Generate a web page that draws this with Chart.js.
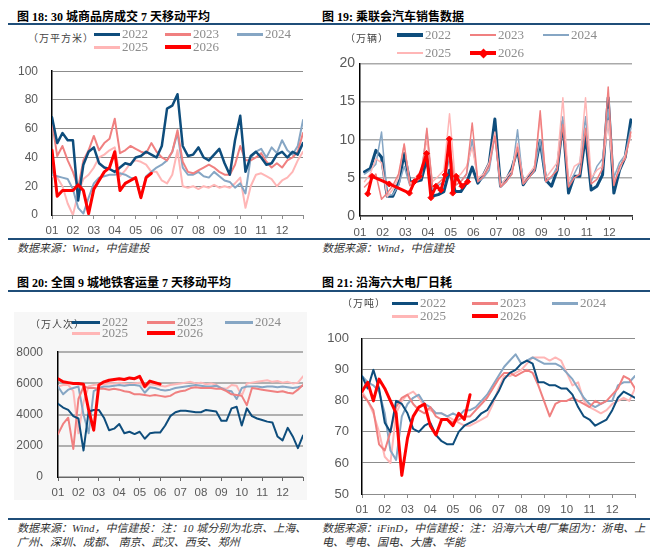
<!DOCTYPE html>
<html><head><meta charset="utf-8">
<script src="https://cdn.jsdelivr.net/npm/chart.js@4.4.1/dist/chart.umd.min.js"></script>
<style>
body{margin:0;background:#fff;width:660px;height:552px;position:relative;overflow:hidden;font-family:'Liberation Serif','Noto Sans CJK SC',serif;}
.abs{position:absolute;white-space:nowrap;}
.title{font-weight:bold;font-size:12px;color:#000;line-height:14px;}
.rule{position:absolute;height:2px;background:#1f4e79;}
.src{font-style:italic;font-size:11px;color:#333;line-height:14px;}
.unit{position:absolute;font-family:'Noto Sans CJK SC',sans-serif;font-size:10px;color:#444;letter-spacing:1px;line-height:12px;white-space:nowrap;}
.lgl{position:absolute;}
.lgt{position:absolute;font-family:'Liberation Serif',serif;font-size:13px;color:#8c8c8c;line-height:14px;}
canvas{position:absolute;}
</style></head>
<body>
<div class="bg" style="position:absolute;left:14px;top:312px;width:293px;height:188px;background:#f7f7f7;"></div>

<div class="abs title" style="left:17px;top:10px;">图 18: 30 城商品房成交 7 天移动平均</div>
<div class="abs title" style="left:322px;top:10px;">图 19: 乘联会汽车销售数据</div>
<div class="rule" style="left:8px;top:23px;width:642px;"></div>
<div class="rule" style="left:8px;top:238px;width:642px;"></div>
<div class="abs src" style="left:17px;top:241px;">数据来源：Wind，中信建投</div>
<div class="abs src" style="left:322px;top:241px;">数据来源：Wind，中信建投</div>

<div class="abs title" style="left:17px;top:276px;">图 20: 全国 9 城地铁客运量 7 天移动平均</div>
<div class="abs title" style="left:322px;top:276px;">图 21: 沿海六大电厂日耗</div>
<div class="rule" style="left:8px;top:290px;width:642px;"></div>
<div class="rule" style="left:8px;top:518px;width:642px;"></div>
<div class="abs src" style="left:17px;top:521px;">数据来源：Wind，中信建投：注：10 城分别为北京、上海、<br>广州、深圳、成都、 南京、武汉、西安、郑州</div>
<div class="abs src" style="left:322px;top:521px;">数据来源：iFinD，中信建投：注：沿海六大电厂集团为：浙电、上<br>电、粤电、国电、大唐、华能</div>

<canvas id="c1" width="320" height="195" style="left:0px;top:50px;"></canvas>
<canvas id="c2" width="320" height="195" style="left:322px;top:50px;"></canvas>
<canvas id="c3" width="320" height="175" style="left:0px;top:330px;"></canvas>
<canvas id="c4" width="320" height="200" style="left:322px;top:318px;"></canvas>
<div id="legends"></div>

<script>
// ---------- data ----------
const years = ['2022','2023','2024','2025','2026'];
const colors = ['#0e4d7c','#f08080','#86a6c4','#ffb6b6','#ff0000'];
const monthLabels = ['01','02','03','04','05','06','07','08','09','10','11','12',''];

// 30城商品房成交 (万平方米), weekly samples from start of Jan
const house2022 = [68,50,57,52,52,10,35,44,47,36,33,32,30,33,36,35,40,41,44,42,40,48,74,76,84,48,41,42,47,40,38,42,46,36,28,52,69,30,41,44,40,35,36,42,44,40,44,42,50];
const house2023 = [65,41,48,38,30,19,38,45,55,45,50,53,67,43,45,48,46,44,43,50,44,40,38,44,59,37,30,29,31,33,35,33,30,28,28,35,48,38,38,40,43,37,33,36,33,38,40,44,57];
const house2024 = [28,27,26,25,18,5,1,12,22,26,27,28,28,29,28,26,25,12,27,30,33,35,38,44,57,33,28,28,30,27,26,30,27,24,23,19,22,15,40,44,46,40,47,43,52,45,42,48,66];
const house2025 = [27,26,20,8,0,15,25,28,33,40,42,45,47,27,31,36,38,37,35,30,30,24,22,28,45,20,19,20,18,20,19,21,19,20,19,22,26,5,20,28,29,27,25,20,24,26,30,38,44];
const house2026 = [45,13,17,17,17,21,17,1,18,24,30,33,44,17,22,24,26,12,26,29];

// 乘联会汽车销售 (万辆), four weekly readings per month
const car2022 = [5.8,6.2,8.6,7.7, 2.6,2.6,4.3,8.2, 4.5,4.5,4.7,7.5, 2.6,2.8,3.2,6.0, 3.2,3.2,4.3,6.4, 4.3,5.4,6.9,12.7, 3.9,4.7,6.2,8.8, 4.1,5.2,6.0,9.9, 4.7,3.9,6.0,12.4, 3.0,5.2,5.2,10.5, 3.4,3.9,5.4,15.5, 3.0,6.0,7.7,12.6];
const car2023 = [3.8,4.6,5.5,2.2, 3.0,4.0,5.5,9.4, 4.0,4.5,5.0,11.5, 3.8,4.3,5.0,9.5, 4.0,4.5,5.5,12.2, 4.5,5.2,6.5,10.5, 3.8,4.5,5.5,9.0, 4.2,5.0,6.0,13.8, 4.5,5.2,6.0,12.0, 3.8,5.0,5.5,11.5, 4.2,4.8,6.2,16.9, 4.0,6.5,7.5,11.0];
const car2024 = [5.5,6.0,6.8,11.0, 2.7,2.8,4.0,6.5, 4.0,4.5,5.5,11.0, 3.5,4.0,4.5,7.5, 4.0,4.5,5.5,10.0, 4.5,5.0,6.0,10.5, 3.8,4.5,5.5,11.3, 4.2,5.0,6.0,10.0, 4.5,5.0,6.5,13.0, 4.0,5.5,7.0,13.0, 4.5,6.5,7.5,14.0, 5.0,7.0,8.0,11.5];
const car2025 = [4.5,5.5,7.5,7.0, 2.5,3.5,5.0,9.5, 4.2,5.0,6.0,10.0, 4.5,5.2,6.0,13.4, 4.8,5.5,6.5,9.0, 5.0,5.5,7.0,11.0, 4.0,5.0,6.0,9.5, 4.5,5.5,6.5,13.0, 5.0,6.0,7.0,15.5, 4.5,6.5,7.0,15.5, 5.0,6.0,6.5,12.5, 4.5,6.0,8.0,10.5];
const car2026Month = [0.34,0.53,1.29,2.18,2.40,2.62,2.94,3.13,3.35,3.57,3.76,3.94,4.09,4.24,4.50,4.75];
const car2026 = [2.9,5.2,4.2,3.0,4.5,5.2,8.2,2.4,3.9,3.4,5.4,10.1,3.0,5.2,3.9,4.5];

// 9城地铁客运量 (万人次)
const metro2022 = [4700,4450,4300,3900,3750,1700,4200,4300,4300,3800,3000,3100,3400,2800,2900,2750,2900,2450,2800,2850,2850,3300,3900,4150,4250,4250,4200,4150,4150,4300,4250,4200,3600,3600,4400,4500,3300,4400,3900,3750,3650,3550,3500,2600,2350,3150,2600,1850,2650];
const metro2023 = [2750,3400,3800,1800,5000,5800,5700,5700,5650,5650,5600,5650,5600,5500,5450,5300,5300,5250,5200,5250,5200,5150,5200,5400,5500,5550,5700,5750,5700,5700,5700,5650,5650,5500,5300,5250,5200,4600,5700,5650,5600,5550,5500,5450,5500,5400,5350,5600,5900];
const metro2024 = [5800,5300,5600,5700,5800,4000,2800,5500,5700,5800,5800,5850,5900,5850,5900,5900,5850,5400,5750,5700,5600,5550,5600,5700,5750,5800,5850,5900,5850,5800,5800,5850,5700,5550,5500,5000,5700,5800,5800,5800,5750,5800,5800,5750,5800,5750,5700,5750,5850];
const metro2025 = [5800,5900,5900,5500,2800,4800,5800,5900,5950,5950,6000,6000,6050,6000,5950,6000,6050,5700,5950,5900,5850,5800,5900,5950,6000,6050,6100,6000,6050,5950,6000,5900,5700,5650,5900,5850,5200,6000,6050,6100,6150,6200,6100,6150,6050,6100,6000,6050,6450];
const metro2026 = [6300,6100,6050,6000,6000,5950,4300,3000,5900,6100,6200,6250,6300,6250,6350,6300,6450,5800,6150,6050,5950];

// 沿海六大电厂日耗 (万吨)
const coal2022 = [88,84,90,84,73,70,80,79,76,71,70,72,73,69,67,66,66,70,72,73,74,76,77,80,83,87,89,90,92,93,92,86,86,85,85,84,84,82,78,75,74,72,73,74,77,81,83,82,81];
const coal2023 = [82,80,77,66,64,70,78,81,82,79,77,76,78,75,74,74,73,74,75,75,77,79,81,84,87,89,89,88,89,90,89,85,80,75,79,80,80,81,80,79,78,80,79,80,82,84,88,87,84];
const coal2024 = [88,86,85,83,76,64,61,75,79,81,82,79,78,76,76,75,76,75,77,77,78,80,82,85,88,91,93,95,92,93,94,93,92,92,92,91,89,87,84,81,79,78,79,80,80,85,86,86,88];
const coal2025 = [83,80,76,70,62,60,76,80,82,83,81,78,77,76,76,75,74,73,72,72,73,74,75,79,84,88,88,89,90,92,94,94,94,93,94,93,89,85,86,80,78,77,76,77,79,80,81,80,84];
const coal2026 = [83,86,80,87,84,80,76,56,68,75,78,79,72,69,74,74,72,76,74,82];

// ---------- helpers ----------
const weekly = arr => arr.map((v,i)=>({x:i*0.25,y:v}));
const carWeeks = arr => arr.map((v,i)=>({x:(i+1)*0.25-0.05,y:v}));
const paired = (xs,ys) => ys.map((v,i)=>({x:xs[i],y:v}));

function ds(label, color, width, pts, extra){
  return Object.assign({label, data:pts, borderColor:color, backgroundColor:color, borderWidth:width,
    pointRadius:0, tension:0, fill:false, borderJoinStyle:'round', borderCapStyle:'round'}, extra||{});
}

function makeChart(id, p){
  new Chart(document.getElementById(id), {
    type:'line',
    data:{datasets:p.datasets},
    options:{
      responsive:false, animation:false, devicePixelRatio:1,
      layout:{padding:{top:p.pt,right:p.pr,left:0,bottom:0}},
      plugins:{legend:{display:false},tooltip:{enabled:false}},
      scales:{
        x:{type:'linear',min:0,max:12,
          afterBuildTicks:s=>{s.ticks=monthLabels.map((l,i)=>({value:i}));},
          afterFit:s=>{s.height=p.xh;},
          ticks:{autoSkip:false,maxRotation:0,padding:p.xpad,color:'#595959',font:{family:'Liberation Sans',size:p.xfs},callback:(v,i)=>monthLabels[i]},
          grid:{drawOnChartArea:false,drawTicks:true,tickLength:4,color:p.xcol,lineWidth:1},
          border:{display:true,color:p.xcol,width:p.xbw}},
        y:{min:p.ymin,max:p.ymax,
          afterBuildTicks:s=>{const t=[];for(let v=p.ymin;v<=p.ymax+1e-9;v+=p.ystep)t.push({value:v});s.ticks=t;},
          afterFit:s=>{s.width=p.yw;},
          ticks:{padding:p.ypad,color:'#595959',font:{family:'Liberation Sans',size:p.yfs},callback:v=>String(v)},
          grid:{color:p.gcol,lineWidth:p.gw,drawTicks:false},
          border:{display:true,color:'#000',width:1.5}}
      }
    }
  });
}

// chart 1
makeChart('c1',{pt:10,pr:17,xh:30,yw:52,xpad:5,xfs:11.5,yfs:12,ypad:14,xcol:'#8c8c8c',xbw:1,gcol:'#8c8c8c',gw:1,ymin:0,ymax:100,ystep:20,
  datasets:[
    ds('2026',colors[4],3,weekly(house2026)),
    ds('2022',colors[0],2.5,weekly(house2022)),
    ds('2023',colors[1],2,weekly(house2023)),
    ds('2024',colors[2],2,weekly(house2024)),
    ds('2025',colors[3],2,weekly(house2025))
  ]});

// chart 2
makeChart('c2',{pt:10,pr:10,xh:29,yw:38,xpad:6,xfs:11.5,yfs:14,ypad:5,xcol:'#333',xbw:1.5,gcol:'#aaaaaa',gw:1.5,ymin:0,ymax:20,ystep:5,
  datasets:[
    ds('2026',colors[4],3,paired(car2026Month,car2026),{pointRadius:3,pointStyle:'rectRot',pointBorderWidth:1}),
    ds('2023',colors[1],1.5,carWeeks(car2023)),
    ds('2025',colors[3],1.5,carWeeks(car2025)),
    ds('2024',colors[2],1.5,carWeeks(car2024)),
    ds('2022',colors[0],3,carWeeks(car2022))
  ]});

// chart 3
makeChart('c3',{pt:11,pr:17,xh:28,yw:58,xpad:5,xfs:11.5,yfs:12,ypad:15,xcol:'#666',xbw:1,gcol:'#b0b0b0',gw:2,ymin:0,ymax:8000,ystep:2000,
  datasets:[
    ds('2026',colors[4],3,weekly(metro2026)),
    ds('2022',colors[0],2,weekly(metro2022)),
    ds('2023',colors[1],2,weekly(metro2023)),
    ds('2024',colors[2],2,weekly(metro2024)),
    ds('2025',colors[3],2,weekly(metro2025))
  ]});

// chart 4
makeChart('c4',{pt:10,pr:7,xh:24,yw:40,xpad:5,xfs:11.5,yfs:13,ypad:13,xcol:'#8c8c8c',xbw:1,gcol:'#8c8c8c',gw:1,ymin:50,ymax:100,ystep:10,
  datasets:[
    ds('2026',colors[4],3,weekly(coal2026)),
    ds('2022',colors[0],2,weekly(coal2022)),
    ds('2023',colors[1],2,weekly(coal2023)),
    ds('2024',colors[2],2,weekly(coal2024)),
    ds('2025',colors[3],2,weekly(coal2025))
  ]});

// ---------- legends (HTML) ----------
const legendSpecs = [
  {unit:'（万平方米）',ux:28,uy:38,cols:[94,165,237],rows:[34,47],w:26,marker:false,thick:[3,3,3,3,4]},
  {unit:'（万辆）',ux:345,uy:38,cols:[397,470,543],rows:[35,53],w:26,marker:true,thick:[4,2.5,2.5,2.5,4]},
  {unit:'（万人次）',ux:30,uy:324,cols:[72,147,225],rows:[322,333],w:28,marker:false,thick:[3,3,3,3,4]},
  {unit:'（万吨）',ux:342,uy:303,cols:[392,472,552],rows:[303,316],w:26,marker:false,thick:[3,3,3,3,4]}
];
const host = document.getElementById('legends');
legendSpecs.forEach(sp=>{
  const u=document.createElement('div');u.className='unit';u.textContent=sp.unit;
  u.style.left=sp.ux+'px';u.style.top=(sp.uy-6)+'px';host.appendChild(u);
  years.forEach((y,i)=>{
    const col=sp.cols[i%3], row=sp.rows[Math.floor(i/3)];
    const l=document.createElement('div');l.className='lgl';
    const th=sp.thick[i];
    l.style.cssText=`left:${col}px;top:${row-th/2}px;width:${sp.w}px;height:${th}px;background:${colors[i]};`;
    host.appendChild(l);
    if(sp.marker && i===4){
      const m=document.createElement('div');m.className='lgl';
      m.style.cssText=`left:${col+sp.w/2-3.5}px;top:${row-3.5}px;width:7px;height:7px;background:${colors[i]};transform:rotate(45deg);`;
      host.appendChild(m);
    }
    const t=document.createElement('div');t.className='lgt';t.textContent=y;
    t.style.left=(col+sp.w+2)+'px';t.style.top=(row-7)+'px';host.appendChild(t);
  });
});
</script>
</body></html>
